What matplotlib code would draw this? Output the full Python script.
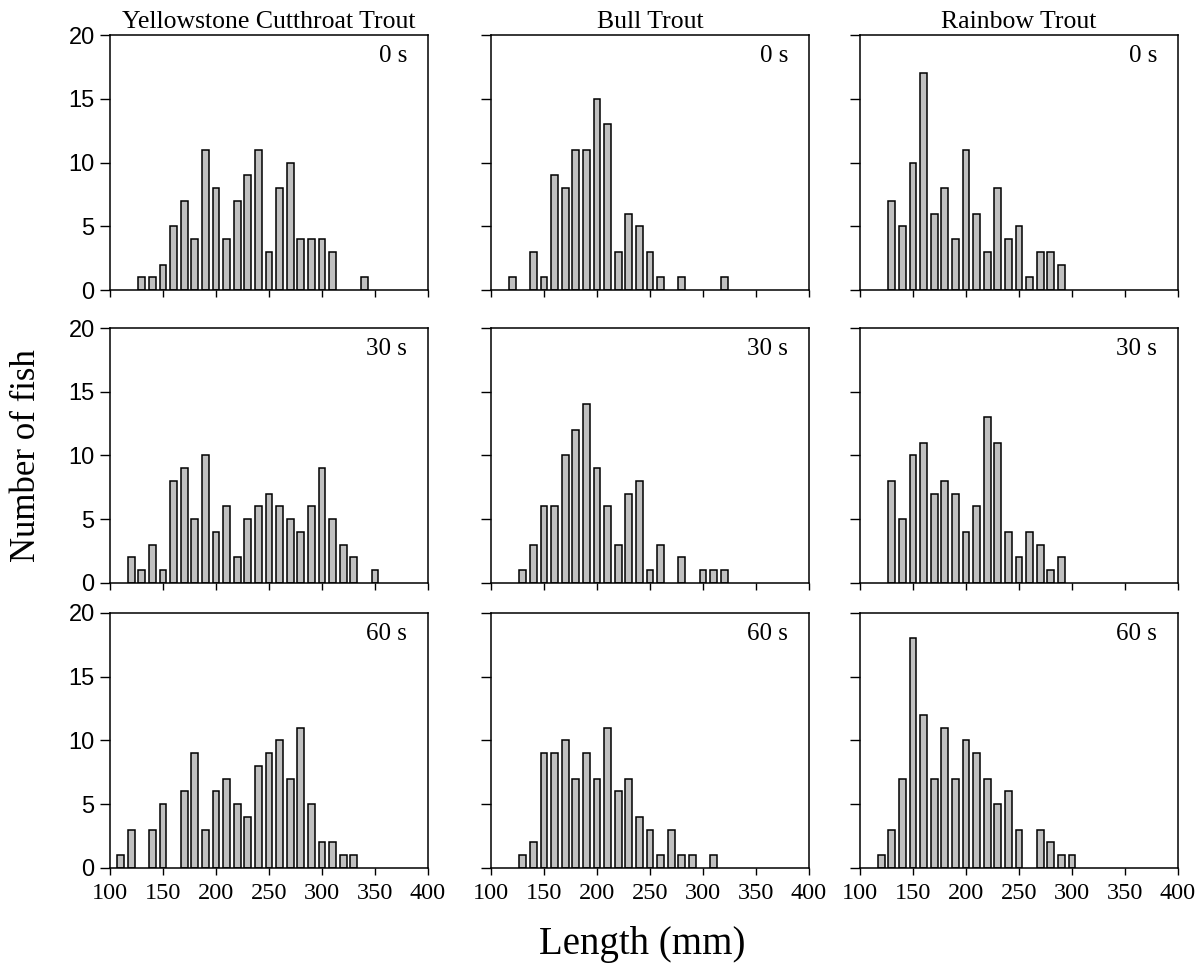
import matplotlib

matplotlib.use("Agg")

import matplotlib.pyplot as plt
import numpy as np

# Bin centres (mm) shared by all panels
lengths = [110, 120, 130, 140, 150, 160, 170, 180, 190, 200, 210, 220, 230,
           240, 250, 260, 270, 280, 290, 300, 310, 320, 330, 340, 350]

species = ["Yellowstone Cutthroat Trout", "Bull Trout", "Rainbow Trout"]
durations = ["0 s", "30 s", "60 s"]

# Counts per bin, one list per species and electrofishing duration
yct_0 = [0, 0, 1, 1, 2, 5, 7, 4, 11, 8, 4, 7, 9, 11, 3, 8, 10, 4, 4, 4, 3, 0, 0, 1, 0]
yct_30 = [0, 2, 1, 3, 1, 8, 9, 5, 10, 4, 6, 2, 5, 6, 7, 6, 5, 4, 6, 9, 5, 3, 2, 0, 1]
yct_60 = [1, 3, 0, 3, 5, 0, 6, 9, 3, 6, 7, 5, 4, 8, 9, 10, 7, 11, 5, 2, 2, 1, 1, 0, 0]

bull_0 = [0, 1, 0, 3, 1, 9, 8, 11, 11, 15, 13, 3, 6, 5, 3, 1, 0, 1, 0, 0, 0, 1, 0, 0, 0]
bull_30 = [0, 0, 1, 3, 6, 6, 10, 12, 14, 9, 6, 3, 7, 8, 1, 3, 0, 2, 0, 1, 1, 1, 0, 0, 0]
bull_60 = [0, 0, 1, 2, 9, 9, 10, 7, 9, 7, 11, 6, 7, 4, 3, 1, 3, 1, 1, 0, 1, 0, 0, 0, 0]

rbt_0 = [0, 0, 7, 5, 10, 17, 6, 8, 4, 11, 6, 3, 8, 4, 5, 1, 3, 3, 2, 0, 0, 0, 0, 0, 0]
rbt_30 = [0, 0, 8, 5, 10, 11, 7, 8, 7, 4, 6, 13, 11, 4, 2, 4, 3, 1, 2, 0, 0, 0, 0, 0, 0]
rbt_60 = [0, 1, 3, 7, 18, 12, 7, 11, 7, 10, 9, 7, 5, 6, 3, 0, 3, 2, 1, 1, 0, 0, 0, 0, 0]

# rows = duration, cols = species
grid = [
    [yct_0, bull_0, rbt_0],
    [yct_30, bull_30, rbt_30],
    [yct_60, bull_60, rbt_60],
]

x_ticks = [100, 150, 200, 250, 300, 350, 400]
y_ticks = [0, 5, 10, 15, 20]

serif = "Liberation Serif"
sans = "Liberation Sans"

fig = plt.figure(figsize=(12.01, 9.71), dpi=100)

col_left = [0.0916, 0.4088, 0.7161]
row_bottom = [0.7013, 0.3996, 0.1061]
ax_w, ax_h = 0.2648, 0.2626

for r in range(3):
    for c in range(3):
        ax = fig.add_axes([col_left[c], row_bottom[r], ax_w, ax_h])
        counts = np.array(grid[r][c])
        x = np.array(lengths)
        keep = counts > 0
        ax.bar(x[keep], counts[keep], width=6.5, color="#c0c0c0",
               edgecolor="black", linewidth=1.1, zorder=2)

        ax.set_xlim(100, 400)
        ax.set_ylim(0, 20)
        ax.set_xticks(x_ticks)
        ax.set_yticks(y_ticks)
        ax.tick_params(axis="both", direction="out", width=1.0, colors="black")
        ax.tick_params(axis="y", length=7, pad=4)
        ax.tick_params(axis="x", length=5, pad=6)
        for sp in ax.spines.values():
            sp.set_linewidth(1.1)

        if c == 0:
            ax.set_yticklabels([str(v) for v in y_ticks], fontfamily=sans,
                               fontsize=17)
        else:
            ax.set_yticklabels([])
        if r == 2:
            ax.set_xticklabels([str(v) for v in x_ticks], fontfamily=serif,
                               fontsize=17.5)
        else:
            ax.set_xticklabels([])

        if r == 0:
            ax.set_title(species[c], fontfamily=serif, fontsize=18.5, pad=5)

        ax.text(0.934, 0.918, durations[r], transform=ax.transAxes,
                ha="right", va="center", fontfamily=serif, fontsize=18)

fig.text(0.022, 0.531, "Number of fish", rotation=90, ha="center",
         va="center", fontfamily=serif, fontsize=25)
fig.text(0.535, 0.027, "Length (mm)", ha="center", va="center",
         fontfamily=serif, fontsize=28)

plt.savefig("out.png", dpi=100)
